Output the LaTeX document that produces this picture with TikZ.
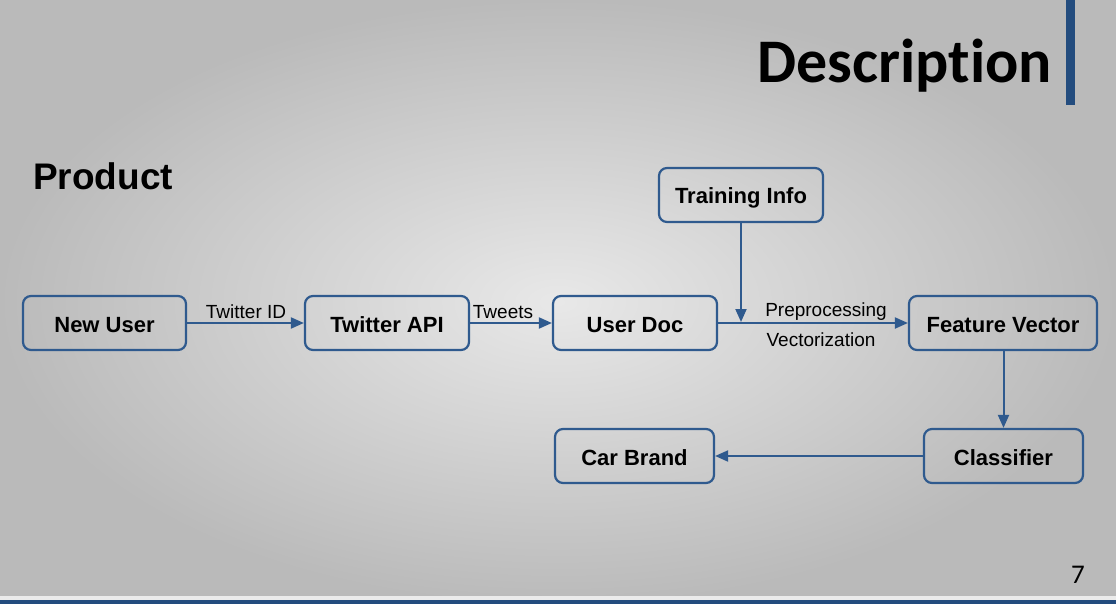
\documentclass[tikz,border=0pt]{standalone}
\usepackage{fontspec}
\setmainfont{Liberation Sans}
\newfontfamily\titlefont[Ligatures=NoCommon,Contextuals=NoAlternate]{Carlito}
\usetikzlibrary{arrows.meta}
\definecolor{boxblue}{HTML}{2F5A8E}
\definecolor{barblue}{HTML}{234C7E}
\begin{document}
\begin{tikzpicture}[x=1pt,y=-1pt,
  box/.style={draw=boxblue, line width=2.2pt, rounded corners=8pt, minimum height=54pt, inner sep=0pt,
    text height=18pt, text depth=0pt,
    font=\fontsize{22}{25}\selectfont\bfseries, text=black},
  conn/.style={draw=boxblue, line width=2pt, -{Triangle[length=13pt,width=11pt]}},
  lbl/.style={font=\fontsize{19}{22}\selectfont, text=black, inner sep=0pt}]
\useasboundingbox (0,0) rectangle (1116,604);
\shade[inner color=black!9, outer color=black!27] (0,0) rectangle (1116,604);
% decorations
\fill[white!92!black] (0,596) rectangle (1116,600);
\fill[barblue] (0,600) rectangle (1116,604);
\fill[barblue] (1066,0) rectangle (1075,105);
\node[font=\titlefont\fontsize{62}{66}\selectfont\bfseries, anchor=base east, inner sep=0pt] (title) at (1052,83) {Description};
\node[font=\fontsize{37}{40}\selectfont\bfseries, anchor=base west, inner sep=0pt] (prod) at (33,190) {Product};
\node[font=\titlefont\fontsize{27}{30}\selectfont, anchor=base, inner sep=0pt] (page) at (1078,583) {7};
% nodes
\node[box, minimum width=163pt] (nu) at (104.5,323) {New User};
\node[box, minimum width=164pt] (ta) at (387,323) {Twitter API};
\node[box, minimum width=164pt] (ud) at (635,323) {User Doc};
\node[box, minimum width=188pt] (fv) at (1003,323) {Feature Vector};
\node[box, minimum width=164pt] (ti) at (741,195) {Training Info};
\node[box, minimum width=159pt] (cl) at (1003.5,456) {Classifier};
\node[box, minimum width=159pt] (cb) at (634.5,456) {Car Brand};
% connectors
\draw[conn] (nu) -- (ta);
\draw[conn] (ta) -- (ud);
\draw[conn] (ud) -- (fv);
\coordinate (join) at (741,322);
\draw[conn] (ti) -- (join);
\draw[conn] (fv.south -| cl.north) -- (cl.north);
\draw[conn] (cl) -- (cb);
% labels
\node[lbl, anchor=base] (l1) at (246,318) {Twitter ID};
\node[lbl, anchor=base] (l2) at (503,318) {Tweets};
\node[lbl, anchor=base] (l3) at (826,316) {Preprocessing};
\node[lbl, anchor=base] (l4) at (821,346) {Vectorization};
\end{tikzpicture}
\end{document}
